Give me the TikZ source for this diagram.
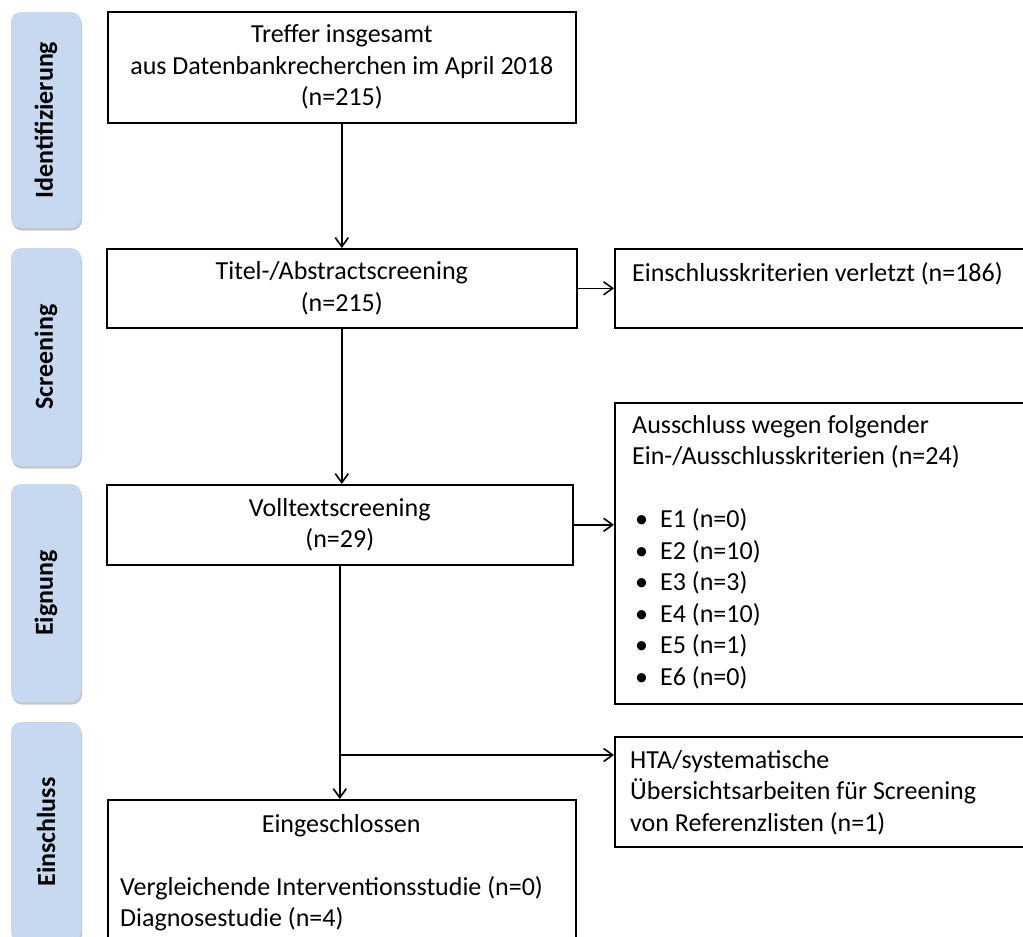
\documentclass[tikz,border=0pt]{standalone}
\usepackage{fontspec}
\setmainfont{Carlito}
\usepackage{graphicx}
\usetikzlibrary{arrows.meta,shadows}
\definecolor{phasefill}{RGB}{198,217,241}
\newcommand\diagfont{\fontsize{26}{31.5}\selectfont}
\newcommand\bul{\hspace*{3pt}\makebox[25pt][l]{\textbullet}}
\begin{document}
\begin{tikzpicture}[x=1pt,y=-1pt,
  box/.style={draw=black, line width=1.6pt, fill=white, inner sep=0pt, anchor=north west, align=center, font=\diagfont},
  ltext/.style={anchor=base west, inner sep=0pt, font=\diagfont},
  phase/.style={fill=phasefill, rounded corners=10pt, inner sep=0pt, font=\diagfont\bfseries,
    drop shadow={shadow xshift=1pt, shadow yshift=-2.5pt, fill=black!50, opacity=0.45}},
  arr/.style={line width=1.6pt, -{Straight Barb[length=9pt,width=13pt,line width=1.6pt]}}]
\useasboundingbox (0,0) rectangle (1023,937);
\clip (0,0) rectangle (1023,937);

% phase bars
\node[phase, minimum width=70pt, minimum height=216pt] (p1) at (46,120) {\rotatebox{90}{Identifizierung}};
\node[phase, minimum width=70pt, minimum height=218pt] (p2) at (46,357) {\rotatebox{90}{Screening}};
\node[phase, minimum width=70pt, minimum height=218pt] (p3) at (46,593) {\rotatebox{90}{Eignung}};
\node[phase, minimum width=70pt, minimum height=220pt] (p4) at (46,832) {\rotatebox{90}{Einschluss}};

% main column
\node[box, minimum width=468pt, minimum height=111pt] (b1) at (107,11)
  {Treffer insgesamt\\aus Datenbankrecherchen im April 2018\\(n=215)};
\node[box, minimum width=470pt, minimum height=79pt] (b2) at (106,248)
  {Titel-/Abstractscreening\\(n=215)};
\node[box, minimum width=466pt, minimum height=80pt] (b3) at (106,484)
  {Volltextscreening\\(n=29)};
\node[box, minimum width=468pt, minimum height=160pt] (b4) at (107,799) {};

% right column
\node[box, minimum width=416pt, minimum height=79pt] (r1) at (614,248) {};
\node[box, minimum width=416pt, minimum height=301pt] (r2) at (614,402) {};
\node[box, minimum width=416pt, minimum height=110pt] (r3) at (614,736) {};

% texts of top-aligned boxes
\node[ltext] (t1) at (632,281) {\parbox[t]{385pt}{\raggedright Einschlusskriterien verletzt (n=186)}};
\node[ltext] (t2) at (632,433) {\parbox[t]{385pt}{\raggedright
  Ausschluss wegen folgender\\
  Ein-/Ausschlusskriterien (n=24)\\
  \mbox{}\\
  \bul E1 (n=0)\\
  \bul E2 (n=10)\\
  \bul E3 (n=3)\\
  \bul E4 (n=10)\\
  \bul E5 (n=1)\\
  \bul E6 (n=0)}};
\node[ltext] (t3) at (630,768) {\parbox[t]{385pt}{\raggedright
  HTA/systematische\\
  Übersichtsarbeiten für Screening\\
  von Referenzlisten (n=1)}};
\node[ltext] (t4) at (120,832) {\parbox[t]{442pt}{\centering Eingeschlossen\par
  \mbox{}\par\raggedright
  Vergleichende Interventionsstudie (n=0)\\
  Diagnosestudie (n=4)}};

% connectors
\draw[arr] (b1.south) -- (b2.north);
\draw[arr] (b2.south) -- (b2.south |- b3.north);
\draw[arr] (b3.south) -- (b3.south |- b4.north);
\coordinate (j) at (b3.south |- 0,755);
\draw[arr] (b2.east) -- (r1.west);
\draw[arr] (b3.east) -- (b3.east -| r2.west);
\draw[arr] (j) -- (j -| r3.west);
\end{tikzpicture}
\end{document}
